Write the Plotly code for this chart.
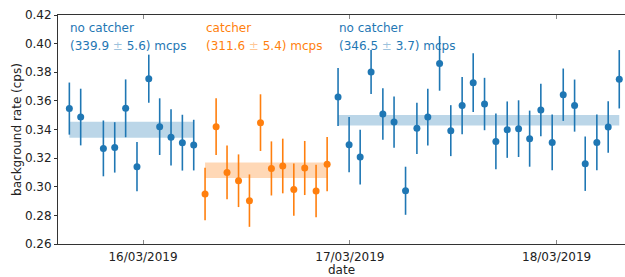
import plotly.graph_objects as go

BLUE = "#1f77b4"
ORANGE = "#ff7f0e"

# ---- data ----
t_nc1 = ["2019-03-15 15:27", "2019-03-15 16:46", "2019-03-15 19:24", "2019-03-15 20:43",
         "2019-03-15 21:59", "2019-03-15 23:18", "2019-03-16 00:40", "2019-03-16 01:56",
         "2019-03-16 03:15", "2019-03-16 04:34", "2019-03-16 05:53"]
v_nc1 = [0.3546, 0.3487, 0.3268, 0.3275, 0.3548, 0.3140, 0.3755, 0.3420, 0.3345, 0.3308, 0.3291]
e_nc1 = [0.0182, 0.0198, 0.0195, 0.0176, 0.0202, 0.0172, 0.0168, 0.0198, 0.0197, 0.0195, 0.0177]

t_c = ["2019-03-16 07:12", "2019-03-16 08:29", "2019-03-16 09:45", "2019-03-16 11:05",
       "2019-03-16 12:21", "2019-03-16 13:38", "2019-03-16 14:54", "2019-03-16 16:13",
       "2019-03-16 17:30", "2019-03-16 18:46", "2019-03-16 20:05", "2019-03-16 21:22"]
v_c = [0.2949, 0.3420, 0.3100, 0.3042, 0.2903, 0.3448, 0.3128, 0.3145, 0.2980, 0.3131, 0.2970, 0.3158]
e_c = [0.0183, 0.0198, 0.0188, 0.0184, 0.0183, 0.0198, 0.0189, 0.0191, 0.0183, 0.0189, 0.0183, 0.0189]

t_nc2 = ["2019-03-16 22:38", "2019-03-16 23:55", "2019-03-17 01:12", "2019-03-17 02:28",
         "2019-03-17 03:50", "2019-03-17 05:08", "2019-03-17 06:28", "2019-03-17 07:47",
         "2019-03-17 09:03", "2019-03-17 10:25", "2019-03-17 11:43", "2019-03-17 13:02",
         "2019-03-17 14:19", "2019-03-17 15:38", "2019-03-17 16:57", "2019-03-17 18:16",
         "2019-03-17 19:35", "2019-03-17 20:52", "2019-03-17 22:10", "2019-03-17 23:29",
         "2019-03-18 00:46", "2019-03-18 02:05", "2019-03-18 03:19", "2019-03-18 04:40",
         "2019-03-18 05:59", "2019-03-18 07:16"]
v_nc2 = [0.3627, 0.3294, 0.3207, 0.3802, 0.3508, 0.3452, 0.2972, 0.3408, 0.3487, 0.3862,
         0.3392, 0.3567, 0.3727, 0.3578, 0.3317, 0.3399, 0.3406, 0.3336, 0.3536, 0.3310,
         0.3643, 0.3567, 0.3161, 0.3310, 0.3417, 0.3751]
e_nc2 = [0.0202, 0.0193, 0.0191, 0.0154, 0.0180, 0.0179, 0.0168, 0.0179, 0.0198, 0.0191,
         0.0178, 0.0200, 0.0205, 0.0183, 0.0195, 0.0197, 0.0198, 0.0196, 0.0183, 0.0195,
         0.0183, 0.0182, 0.0190, 0.0195, 0.0180, 0.0204]

# group means (mcps) and uncertainties
groups = [
    ("no catcher", t_nc1, v_nc1, e_nc1, 339.9, 5.6, BLUE, "rgba(31,119,180,0.3)", "rgba(31,119,180,0.45)"),
    ("catcher", t_c, v_c, e_c, 311.6, 5.4, ORANGE, "rgba(255,127,14,0.3)", "rgba(255,127,14,0.45)"),
    ("no catcher", t_nc2, v_nc2, e_nc2, 346.5, 3.7, BLUE, "rgba(31,119,180,0.3)", "rgba(31,119,180,0.45)"),
]

y_ticks = [0.26, 0.28, 0.30, 0.32, 0.34, 0.36, 0.38, 0.40, 0.42]
x_ticks = ["2019-03-16", "2019-03-17", "2019-03-18"]
x_range = ["2019-03-15 14:08", "2019-03-18 07:56"]

fig = go.Figure()

# bands first (behind)
for name, t, v, e, m, s, col, band, pm in groups:
    lo = (m - s) / 1000.0
    hi = (m + s) / 1000.0
    fig.add_trace(go.Scatter(
        x=[t[0], t[-1], t[-1], t[0], t[0]],
        y=[lo, lo, hi, hi, lo],
        fill="toself", fillcolor=band, line=dict(width=0),
        mode="lines", hoverinfo="skip", showlegend=False))

for name, t, v, e, m, s, col, band, pm in groups:
    fig.add_trace(go.Scatter(
        x=t, y=v, mode="markers",
        marker=dict(color=col, size=7),
        error_y=dict(type="data", array=e, visible=True, color=col, thickness=1.6, width=0),
        showlegend=False, cliponaxis=False))

FONT = "DejaVu Sans"
for name, t, v, e, m, s, col, band, pm in groups:
    fig.add_annotation(x=t[0], xref="x", y=0.942, yref="paper", text=name,
                       showarrow=False, xanchor="left", yanchor="middle", xshift=-1,
                       font=dict(family=FONT, size=12, color=col))
    fig.add_annotation(x=t[0], xref="x", y=0.863, yref="paper",
                       text=f"({m:.1f} <span style='color:{pm}'>±</span> {s:.1f}) mcps",
                       showarrow=False, xanchor="left", yanchor="middle", xshift=-1,
                       font=dict(family=FONT, size=12, color=col))

fig.update_layout(
    width=625, height=277,
    margin=dict(l=58, r=0, t=15, b=33, autoexpand=False),
    paper_bgcolor="white", plot_bgcolor="white",
    font=dict(family=FONT, size=12, color="#222"),
    showlegend=False,
)
fig.update_xaxes(
    type="date", range=x_range, tickvals=x_ticks, tickformat="%d/%m/%Y",
    showgrid=False, zeroline=False, automargin=False,
    showline=True, linecolor="#333", linewidth=1, mirror="ticks",
    ticks="inside", ticklen=4, tickcolor="#888", tickwidth=1,
    ticklabelstandoff=2,
    title=dict(text="date", standoff=0, font=dict(family=FONT, size=12)),
    tickfont=dict(family=FONT, size=12, color="#222"),
)
fig.update_yaxes(
    range=[0.26, 0.42], tickvals=y_ticks, tickformat=".2f",
    showgrid=False, zeroline=False, automargin=False,
    showline=True, linecolor="#333", linewidth=1, mirror=False,
    ticks="outside", ticklen=3, tickcolor="#333", tickwidth=1,
    title=dict(text="background rate (cps)", standoff=0, font=dict(family=FONT, size=12)),
    tickfont=dict(family=FONT, size=12, color="#222"),
)

fig.write_html("out.html", config={"displayModeBar": False},
               post_script="document.body.style.margin='0';document.body.style.overflow='hidden';")
